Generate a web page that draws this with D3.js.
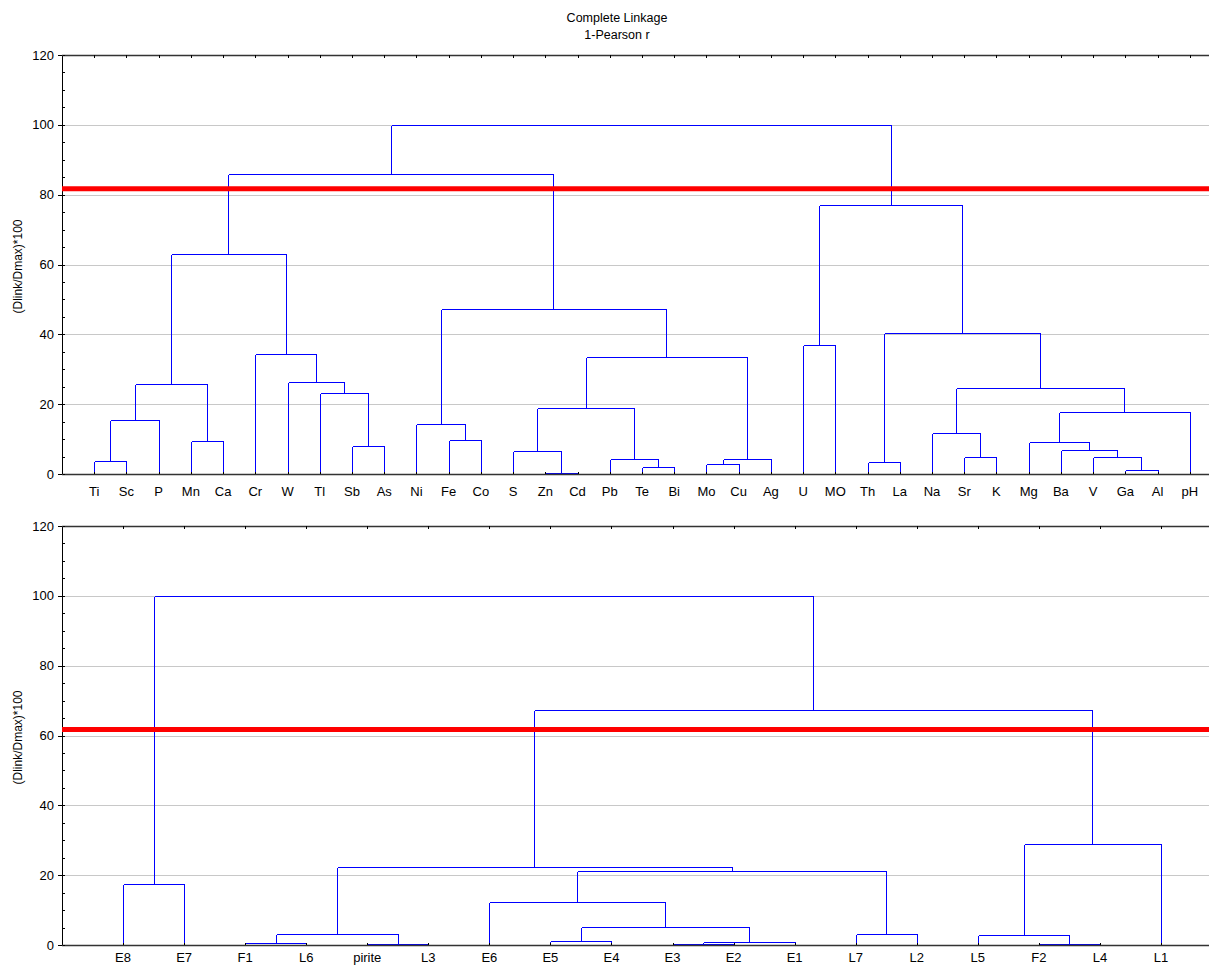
<!DOCTYPE html>
<html lang="en">
  <head>
    <meta charset="utf-8">
    <title>Complete Linkage</title>
    <script src="https://cdn.jsdelivr.net/npm/d3@7/dist/d3.min.js" charset="utf-8"></script>
<style type="text/css">
body {margin:0;background:#fff;}
text {font-family:"Liberation Sans", Arial, sans-serif;fill:#000;}
</style>
  </head>
  <body>
    <div id='main'></div>
<script type="text/javascript">

// top dendrogram: leaves left to right, merges = [a, b, height]
// a/b < n is a leaf index, >= n is merge (a-n) of the list
var leavesTop = ['Ti','Sc','P','Mn','Ca','Cr','W','Tl','Sb','As','Ni','Fe','Co','S','Zn','Cd','Pb','Te','Bi',
                 'Mo','Cu','Ag','U','MO','Th','La','Na','Sr','K','Mg','Ba','V','Ga','Al','pH']
var mergesTop = [
  [14,15,0.3],[32,33,1.1],[17,18,2.1],[19,20,2.9],[24,25,3.4],[0,1,3.8],[16,37,4.2],[38,21,4.2],
  [31,36,4.8],[27,28,4.9],[13,35,6.7],[30,43,6.9],[8,9,7.9],[29,46,9.1],[3,4,9.5],[11,12,9.8],
  [26,44,11.7],[10,50,14.2],[40,2,15.4],[48,34,17.7],[45,41,19.0],[7,47,23.3],[51,54,24.6],
  [53,49,25.7],[6,56,26.3],[55,42,33.5],[5,59,34.4],[22,23,37.0],[39,57,40.4],[52,60,47.3],
  [58,61,63.0],[62,63,77.0],[65,64,86.0],[67,66,100]
]
var cutTop = 81.7

var leavesBottom = ['E8','E7','F1','L6','pirite','L3','E6','E5','E4','E3','E2','E1','L7','L2','L5','F2','L4','L1']
var mergesBottom = [
  [9,10,0.2],[15,16,0.2],[4,5,0.4],[2,3,0.5],[18,11,0.8],[7,8,1.1],[14,19,3.0],[21,20,3.1],
  [12,13,3.1],[23,22,5.1],[6,27,12.2],[0,1,17.5],[28,26,21.1],[25,30,22.4],[24,17,28.9],
  [31,32,67.3],[29,33,100]
]
var cutBottom = 61.7

var yTicks = [0,20,40,60,80,100,120]
var yMinor = d3.range(0,121,5)
var titleLines = ['Complete Linkage','1-Pearson r']
var yLabel = '(Dlink/Dmax)*100'

var width = 1209, height = 965
var svg = d3.select("#main").append("svg").attr("width",width).attr("height",height)

svg.selectAll("text.title").data(titleLines).enter().append("text")
  .attr("class","title")
  .attr("x",617).attr("y",function(d,i){return 22+i*17})
  .attr("text-anchor","middle").style("font-size","12.5px")
  .text(function(d){return d})

function dendro(leaves, merges, cut, top, bottom, labelDy){
  var n = leaves.length
  var x = d3.scaleLinear().domain([0,n+1]).range([62,1222])
  var y = d3.scaleLinear().domain([0,120]).range([bottom,top])
  var g = svg.append("g")
  var py = function(v){return Math.round(y(v))+0.5}

  // grid
  g.selectAll("line.grid").data(yTicks.filter(function(d){return d>0 && d<120})).enter().append("line")
    .attr("class","grid")
    .attr("x1",62).attr("x2",width).attr("y1",py).attr("y2",py)
    .attr("stroke","#c8c8c8").attr("stroke-width",1)

  // positions of leaves and clusters
  var pos = leaves.map(function(d,i){return {x:x(i+1),h:0}})
  merges.forEach(function(m){
    var a = pos[m[0]], b = pos[m[1]]
    pos.push({x:(a.x+b.x)/2,h:m[2]})
  })

  var segs = []
  merges.forEach(function(m){
    var a = pos[m[0]], b = pos[m[1]]
    segs.push([a.x,y(a.h),a.x,y(m[2])])
    segs.push([b.x,y(b.h),b.x,y(m[2])])
    segs.push([a.x,y(m[2]),b.x,y(m[2])])
  })
  g.selectAll("line.link").data(segs).enter().append("line")
    .attr("class","link")
    .attr("x1",function(d){return Math.round(d[0])+0.5}).attr("y1",function(d){return Math.round(d[1])+0.5})
    .attr("x2",function(d){return Math.round(d[2])+0.5}).attr("y2",function(d){return Math.round(d[3])+0.5})
    .attr("stroke","#0000ff").attr("stroke-width",1).attr("shape-rendering","crispEdges")

  // frame: left axis, bottom axis, top border
  g.append("line").attr("x1",62.5).attr("x2",62.5).attr("y1",y(120)).attr("y2",y(0)+1)
    .attr("stroke","#000").attr("stroke-width",1)
  g.append("line").attr("x1",62).attr("x2",width).attr("y1",py(0)).attr("y2",py(0))
    .attr("stroke","#333").attr("stroke-width",1.3)
  g.append("line").attr("x1",62).attr("x2",width).attr("y1",py(120)).attr("y2",py(120))
    .attr("stroke","#333").attr("stroke-width",1.3)

  g.selectAll("line.xt").data(leaves).enter().append("line")
    .attr("class","xt")
    .attr("x1",function(d,i){return Math.round(x(i+1))+0.5}).attr("x2",function(d,i){return Math.round(x(i+1))+0.5})
    .attr("y1",y(0)).attr("y2",y(0)-2).attr("stroke","#000")
  g.selectAll("line.xt2").data(leaves).enter().append("line")
    .attr("class","xt2")
    .attr("x1",function(d,i){return Math.round(x(i+1))+0.5}).attr("x2",function(d,i){return Math.round(x(i+1))+0.5})
    .attr("y1",y(120)).attr("y2",y(120)+3).attr("stroke","#000")

  g.selectAll("line.ym").data(yMinor).enter().append("line")
    .attr("class","ym")
    .attr("x1",63).attr("x2",65).attr("y1",py).attr("y2",py)
    .attr("stroke","#000")
  g.selectAll("line.yt").data(yTicks).enter().append("line")
    .attr("class","yt")
    .attr("x1",58).attr("x2",62).attr("y1",py).attr("y2",py)
    .attr("stroke","#000")

  g.selectAll("text.yl").data(yTicks).enter().append("text")
    .attr("class","yl")
    .attr("x",54).attr("y",function(d){return y(d)+4.5})
    .attr("text-anchor","end").style("font-size","13px")
    .text(function(d){return d})

  g.selectAll("text.leaf").data(leaves).enter().append("text")
    .attr("class","leaf")
    .attr("x",function(d,i){return x(i+1)}).attr("y",y(0)+labelDy)
    .attr("text-anchor","middle").style("font-size","13px")
    .text(function(d){return d})

  g.append("text").attr("transform","translate(22,"+((y(0)+y(120))/2+2)+") rotate(-90)")
    .attr("text-anchor","middle").style("font-size","12px").text(yLabel)

  // cut line
  g.append("line").attr("x1",62).attr("x2",width).attr("y1",y(cut)).attr("y2",y(cut))
    .attr("stroke","#ff0000").attr("stroke-width",5)
}

dendro(leavesTop, mergesTop, cutTop, 55, 474, 22)
dendro(leavesBottom, mergesBottom, cutBottom, 526, 945, 17)

</script>
  </body>
</html>
